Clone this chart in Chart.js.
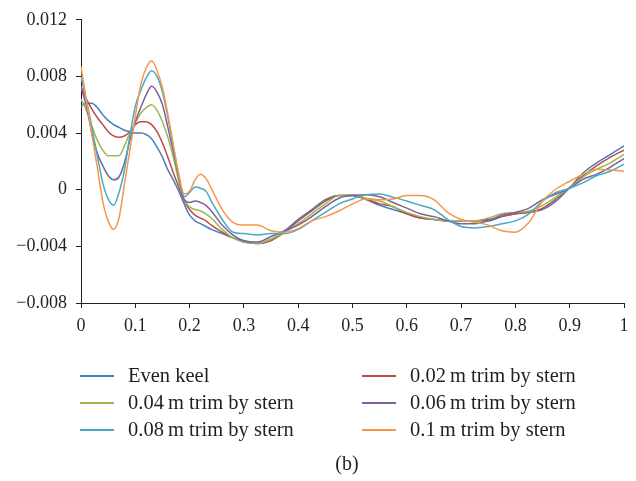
<!DOCTYPE html>
<html>
<head>
    <title>Trim by stern</title>
    <script src="https://cdn.jsdelivr.net/npm/chart.js@4.4.1/dist/chart.umd.min.js"></script>
    <style>
        body {
            margin: 0;
            background-color: #fff;
            font-family: "Liberation Serif", serif;
        }

        .wrap {
            position: relative;
            width: 636px;
            height: 481px;
        }

        #legend {
            position: absolute;
            left: 80px;
            top: 362px;
            width: 560px;
            display: grid;
            grid-template-columns: 282px 270px;
            font-size: 20.5px;
            color: #231f20;
        }

        .item {
            display: flex;
            align-items: center;
            height: 27px;
            white-space: nowrap;
        }

        .swatch {
            display: inline-block;
            width: 34px;
            height: 2px;
            margin-right: 14px;
            flex: none;
        }

        .caption {
            position: absolute;
            left: 0;
            width: 694px;
            top: 452px;
            text-align: center;
            font-size: 20px;
            color: #231f20;
        }
    </style>
</head>
<body>
<div class="wrap">
    <canvas id="chart" width="636" height="481"></canvas>
    <div id="legend"></div>
    <div class="caption">(b)</div>
</div>
<script>
    // x positions (fraction of length)
    const xs = [0, 0.01, 0.02, 0.03, 0.04, 0.05, 0.06, 0.07, 0.08, 0.09,
        0.1, 0.11, 0.12, 0.13, 0.14, 0.15, 0.16, 0.17, 0.18, 0.19,
        0.2, 0.21, 0.22, 0.23, 0.24, 0.26, 0.28, 0.3,
        0.325, 0.35, 0.375, 0.4, 0.425, 0.45, 0.475, 0.5, 0.525, 0.55, 0.575, 0.6,
        0.625, 0.65, 0.675, 0.7, 0.725, 0.75, 0.775, 0.8, 0.825, 0.85, 0.875, 0.9,
        0.925, 0.95, 0.975, 1];

    const evenKeel = [0.0059, 0.0061, 0.0061, 0.0058, 0.0053, 0.0049, 0.0046, 0.0044, 0.0042, 0.0041,
        0.0040, 0.0040, 0.0039, 0.0036, 0.0030, 0.0023, 0.0014, 0.0007, -0.0001, -0.0010,
        -0.0018, -0.0022, -0.0024, -0.0026, -0.0028, -0.0031, -0.0034, -0.0036,
        -0.0038, -0.0035, -0.0029, -0.0021, -0.0014, -0.0007, -0.0004, -0.0004, -0.0007, -0.0011, -0.0014, -0.0017,
        -0.0020, -0.0021, -0.0022, -0.0022, -0.0022, -0.0022, -0.0019, -0.0017, -0.0016, -0.0014, -0.0008, 0.00015,
        0.0012, 0.0019, 0.0025, 0.0031];

    const trim002 = [0.0073, 0.0064, 0.0057, 0.0051, 0.0046, 0.0041, 0.0038, 0.0037, 0.0038, 0.0041,
        0.0046, 0.0048, 0.0048, 0.0046, 0.0041, 0.0033, 0.0023, 0.0012, 0.0002, -0.0008,
        -0.0014, -0.0018, -0.0020, -0.0022, -0.0025, -0.0030, -0.0034, -0.0037,
        -0.0038, -0.0036, -0.0030, -0.0022, -0.0015, -0.0008, -0.0004, -0.0004, -0.00065, -0.0010, -0.0012, -0.0017,
        -0.0020, -0.0021, -0.0022, -0.0022, -0.0022, -0.0021, -0.0019, -0.0017, -0.0016, -0.0013, -0.00065, 0.00015,
        0.0010, 0.0017, 0.0023, 0.0028];

    const trim004 = [0.0064, 0.0056, 0.0045, 0.0035, 0.0028, 0.0024, 0.0024, 0.0024, 0.0031, 0.0040,
        0.0047, 0.0054, 0.0058, 0.0060, 0.0056, 0.0048, 0.0037, 0.0023, 0.0006, -0.0007,
        -0.0012, -0.0014, -0.0015, -0.0017, -0.0020, -0.0028, -0.0034, -0.0037,
        -0.0038, -0.0035, -0.0030, -0.0024, -0.0017, -0.0010, -0.0004, -0.00035, -0.0006, -0.0008, -0.0012, -0.0016,
        -0.0019, -0.0021, -0.0022, -0.0022, -0.0022, -0.0020, -0.0017, -0.0016, -0.0015, -0.0011, -0.0005, 0.00015,
        0.0009, 0.00145, 0.0019, 0.0025];

    const trim006 = [0.0072, 0.0059, 0.0040, 0.0026, 0.0017, 0.0010, 0.0007, 0.0009, 0.0019, 0.0035,
        0.0048, 0.0058, 0.0067, 0.0073, 0.0069, 0.0060, 0.0044, 0.0027, 0.0009, -0.0007,
        -0.0009, -0.0008, -0.0009, -0.0011, -0.0015, -0.0025, -0.0032, -0.0036,
        -0.0037, -0.0033, -0.0029, -0.0025, -0.0019, -0.0012, -0.0006, -0.0004, -0.00035, -0.0005, -0.0009, -0.0013,
        -0.0017, -0.0019, -0.0022, -0.0024, -0.0024, -0.0022, -0.0018, -0.0016, -0.0013, -0.0007, -0.0003, 0.0001,
        0.00075, 0.0011, 0.0016, 0.0022];

    const trim008 = [0.0080, 0.0063, 0.0044, 0.0024, 0.0005, -0.00065, -0.0011, -0.0002, 0.0014, 0.0038,
        0.0059, 0.0070, 0.0079, 0.0084, 0.0080, 0.0069, 0.0051, 0.0030, 0.0010, -0.0005,
        -0.0002, 0.0002, 0.0001, -0.0001, -0.0008, -0.0021, -0.0030, -0.0031,
        -0.0032, -0.0031, -0.0031, -0.0028, -0.0022, -0.0016, -0.0010, -0.00065, -0.00035, -0.0003, -0.00054, -0.0008,
        -0.0011, -0.0014, -0.0021, -0.0026, -0.0027, -0.0026, -0.0024, -0.0022, -0.0017, -0.0008, -0.0002, 0.0001,
        0.0005, 0.0010, 0.0013, 0.0018];

    const trim01 = [0.0087, 0.0063, 0.0039, 0.0016, -0.0008, -0.0022, -0.0028, -0.0020, 0.0004, 0.0028,
        0.0052, 0.0074, 0.0086, 0.0091, 0.0084, 0.0072, 0.0053, 0.0032, 0.0011, -0.0003,
        -0.0001, 0.0007, 0.0011, 0.0008, 0.0001, -0.0014, -0.0023, -0.0025,
        -0.0025, -0.0029, -0.0030, -0.00275, -0.0022, -0.0019, -0.0015, -0.0010, -0.00065, -0.0007, -0.00065, -0.0004,
        -0.0004, -0.0007, -0.0016, -0.0021, -0.0023, -0.0025, -0.0029, -0.0030, -0.0023, -0.0008, 0.00005, 0.0006,
        0.0011, 0.00145, 0.0014, 0.0013];

    const seriesNames = ['Even keel', '0.02\u2009m trim by stern', '0.04\u2009m trim by stern',
        '0.06\u2009m trim by stern', '0.08\u2009m trim by stern', '0.1\u2009m trim by stern'];
    const seriesColors = ['#4a7ebb', '#be4b48', '#98b954', '#7d60a0', '#46aac5', '#f79646'];
    const seriesValues = [evenKeel, trim002, trim004, trim006, trim008, trim01];

    const xTickLabels = ['0', '0.1', '0.2', '0.3', '0.4', '0.5', '0.6', '0.7', '0.8', '0.9', '1'];
    const yTickLabels = ['\u22120.008', '\u22120.004', '0', '0.004', '0.008', '0.012'];

    const datasets = seriesValues.map(function (vals, i) {
        return {
            label: seriesNames[i],
            data: xs.map(function (x, j) { return {x: x, y: vals[j]}; }),
            borderColor: seriesColors[i],
            backgroundColor: seriesColors[i],
            borderWidth: 1.5,
            pointRadius: 0,
            fill: false,
            cubicInterpolationMode: 'monotone',
            order: seriesValues.length - i   // last series on top, like the original
        };
    });

    const axisFont = {family: 'Liberation Serif', size: 18};

    const chart = new Chart('chart', {
        type: 'line',
        data: {datasets: datasets},
        options: {
            responsive: false,
            animation: false,
            devicePixelRatio: 1,
            layout: {padding: {top: 18, right: 12, left: 0, bottom: 0}},
            plugins: {
                legend: {display: false},
                tooltip: {enabled: false}
            },
            scales: {
                x: {
                    type: 'linear',
                    min: 0,
                    max: 1,
                    ticks: {
                        stepSize: 0.1,
                        color: '#231f20',
                        font: axisFont,
                        padding: 7,
                        maxRotation: 0,
                        callback: function (v, i) { return xTickLabels[i]; }
                    },
                    grid: {display: true, drawOnChartArea: false, drawTicks: true, tickLength: 5, color: '#231f20'},
                    border: {color: '#231f20', width: 1},
                    afterFit: function (scale) { scale.height = 178; }
                },
                y: {
                    min: -0.008,
                    max: 0.012,
                    ticks: {
                        stepSize: 0.004,
                        color: '#231f20',
                        font: axisFont,
                        padding: 9,
                        callback: function (v, i) { return yTickLabels[i]; }
                    },
                    grid: {display: true, drawOnChartArea: false, drawTicks: true, tickLength: 5, color: '#231f20'},
                    border: {color: '#231f20', width: 1},
                    afterFit: function (scale) { scale.width = 81; }
                }
            }
        }
    });

    // legend in two columns, built from the datasets
    const legend = document.getElementById('legend');
    chart.data.datasets.forEach(function (ds) {
        const item = document.createElement('div');
        item.className = 'item';
        const sw = document.createElement('span');
        sw.className = 'swatch';
        sw.style.background = ds.borderColor;
        const txt = document.createElement('span');
        txt.textContent = ds.label;
        item.appendChild(sw);
        item.appendChild(txt);
        legend.appendChild(item);
    });
</script>
</body>
</html>
